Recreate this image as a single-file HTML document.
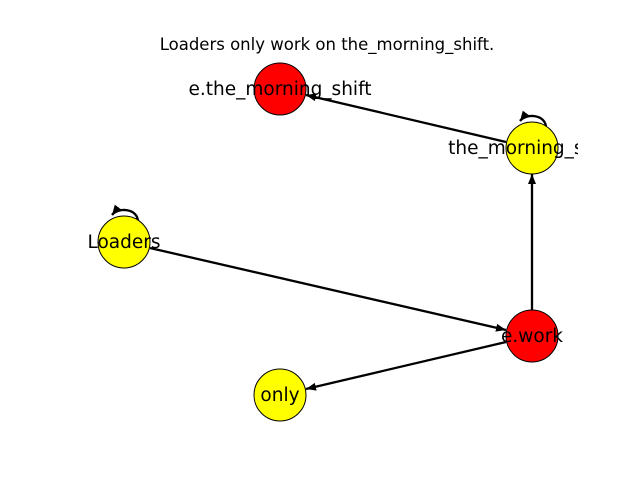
<!DOCTYPE html>
<html><head><style>body{margin:0;background:#fff}svg{display:block}</style></head><body>
<svg width="640" height="480" viewBox="0 0 640 480" xmlns="http://www.w3.org/2000/svg">
<defs>
<marker id="a" viewBox="0 0 10 10" refX="10" refY="5" markerWidth="10" markerHeight="10" markerUnits="userSpaceOnUse" orient="auto"><path d="M0,1 L10,5 L0,9 Z" fill="#000"/></marker>
<clipPath id="c"><rect x="0" y="0" width="578" height="480"/></clipPath>
</defs>
<text x="327" y="50" font-family="DejaVu Sans, Liberation Sans, sans-serif" font-size="16.5" text-anchor="middle">Loaders only work on the_morning_shift.</text>
<g stroke="#000" stroke-width="2.3" fill="none">
<line x1="506" y1="142" x2="306" y2="95" marker-end="url(#a)"/>
<line x1="150" y1="248" x2="506" y2="330" marker-end="url(#a)"/>
<line x1="506" y1="342" x2="306" y2="389" marker-end="url(#a)"/>
<line x1="532" y1="310" x2="532" y2="174" marker-end="url(#a)"/>
<path d="M546,128 C546,114 526,113 520,121" marker-end="url(#a)"/>
<path d="M138,222 C138,208 118,207 112,215" marker-end="url(#a)"/>
</g>
<g stroke="#000" stroke-width="1">
<circle cx="280" cy="89" r="26" fill="#f00"/>
<circle cx="532" cy="148" r="26" fill="#ff0"/>
<circle cx="124" cy="242" r="26" fill="#ff0"/>
<circle cx="532" cy="336" r="26" fill="#f00"/>
<circle cx="280" cy="395" r="26" fill="#ff0"/>
</g>
<g font-family="DejaVu Sans, Liberation Sans, sans-serif" font-size="18.5" text-anchor="middle" fill="#000">
<text x="280" y="95">e.the_morning_shift</text>
<text x="531" y="154" clip-path="url(#c)">the_morning_shift</text>
<text x="124" y="248">Loaders</text>
<text x="532" y="342">e.work</text>
<text x="280" y="401">only</text>
</g>
</svg>
</body></html>
